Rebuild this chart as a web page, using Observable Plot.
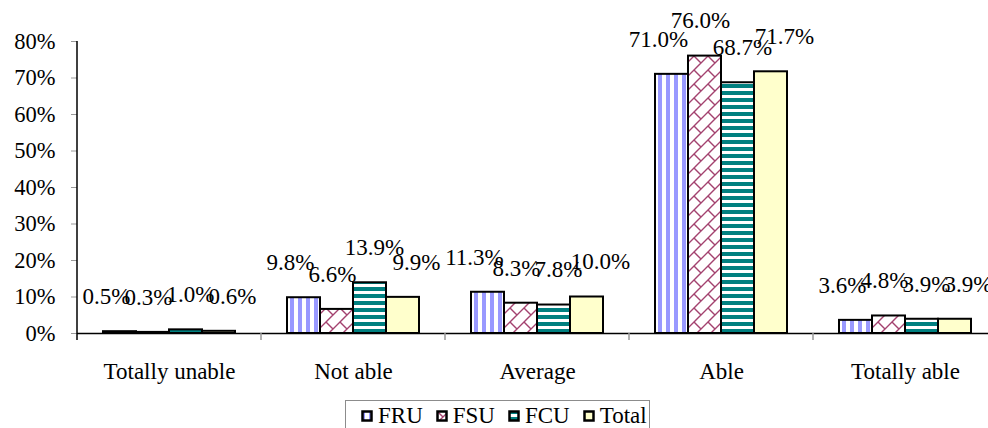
<!DOCTYPE html>
<html><head><meta charset="utf-8">
<script src="https://cdn.jsdelivr.net/npm/d3@7"></script>
<script src="https://cdn.jsdelivr.net/npm/@observablehq/plot@0.6"></script>
<style>
body{margin:0;background:#fff;font-family:'Liberation Serif',serif;}
#wrap{position:relative;width:988px;height:428px;overflow:hidden;background:#fff;}
#legend{position:absolute;left:345px;top:400px;width:305px;height:40px;border:1px solid #8c8c8c;box-sizing:border-box;display:flex;align-items:flex-start;padding-top:3px;padding-left:15px;font-size:23px;line-height:24px;color:#000;font-family:'Liberation Serif',serif;}
.item{display:flex;align-items:center;margin-right:13px;white-space:nowrap}
.item svg{margin-right:5px}
</style></head><body><div id="wrap"><div id="chart"></div><div id="legend"></div></div>
<script>
const categories = ["Totally unable", "Not able", "Average", "Able", "Totally able"];
const series = ["FRU", "FSU", "FCU", "Total"];
const FRU   = [0.005, 0.098, 0.113, 0.710, 0.036];
const FSU   = [0.003, 0.066, 0.083, 0.760, 0.048];
const FCU   = [0.010, 0.139, 0.078, 0.687, 0.039];
const Total = [0.006, 0.099, 0.100, 0.717, 0.039];
const yTicks = [0, 0.1, 0.2, 0.3, 0.4, 0.5, 0.6, 0.7, 0.8];

const seriesValues = [FRU, FSU, FCU, Total];
const seriesFills = ["url(#pFRU)", "url(#pFSU)", "url(#pFCU)", "#ffffcc"];
const data = categories.flatMap((c, i) => series.map((s, j) => ({category: c, series: s, value: seriesValues[j][i]})));
const pct1 = d3.format(".1%");
const FONT = "'Liberation Serif', serif";

// value labels: one text mark per series, spread slightly outward like the original
const labelMarks = series.map((s, j) => Plot.text(data.filter(d => d.series === s), {
  fx: "category", x: "series", y: "value", text: d => pct1(d.value),
  dy: -35, dx: (j - 1.5) * 9, fontSize: 23, fill: "black", fontFamily: FONT
}));

const chart = Plot.plot({
  width: 988, height: 395,
  marginLeft: 75, marginRight: -10, marginTop: 41, marginBottom: 62,
  style: {fontFamily: FONT, fontSize: "23px", color: "black", background: "transparent", overflow: "visible"},
  fx: {domain: categories, padding: 0, label: null},
  x: {domain: series, paddingInner: 0, paddingOuter: 0.71, axis: null},
  y: {domain: [0, 0.8], label: null},
  color: {type: "ordinal", domain: series, range: seriesFills},
  marks: [
    Plot.barY(data, {fx: "category", x: "series", y: "value", fill: "series", stroke: "black", strokeWidth: 2}),
    ...labelMarks,
    Plot.ruleY([0], {stroke: "black", strokeWidth: 1.5}),
    Plot.axisY({ticks: yTicks, tickFormat: d3.format(".0%"), tickSize: 6, tickPadding: 16, stroke: "#999", fill: "black", label: null, fontSize: 22.5, fontFamily: FONT}),
    Plot.axisFx({anchor: "bottom", tickSize: 0, tickPadding: 29, label: null, fontSize: 23, fill: "black", fontFamily: FONT})
  ]
});
document.getElementById("chart").appendChild(chart);

// patterns
const svg = d3.select(chart);
const defs = svg.insert("defs", ":first-child");
let p = defs.append("pattern").attr("id", "pFRU").attr("patternUnits", "userSpaceOnUse").attr("width", 8).attr("height", 8);
p.append("rect").attr("width", 8).attr("height", 8).attr("fill", "#fff");
p.append("rect").attr("width", 4).attr("height", 8).attr("fill", "#9999ff");
p = defs.append("pattern").attr("id", "pFSU").attr("patternUnits", "userSpaceOnUse").attr("width", 14).attr("height", 14);
p.append("rect").attr("width", 14).attr("height", 14).attr("fill", "#fff");
p.append("path").attr("d", "M-1,1L1,-1M0,14L14,0M13,15L15,13M0,0L7,7").attr("stroke", "#a3426f").attr("stroke-width", 1.4).attr("fill", "none");
p = defs.append("pattern").attr("id", "pFCU").attr("patternUnits", "userSpaceOnUse").attr("width", 7).attr("height", 7);
p.append("rect").attr("width", 7).attr("height", 7).attr("fill", "#fff");
p.append("rect").attr("width", 7).attr("height", 4).attr("fill", "#008080");

// y-axis line and category boundary ticks from the library's scales
const ys = chart.scale("y"), fxs = chart.scale("fx");
const yAt = ys.apply ? v => ys.apply(v) : d3.scaleLinear(ys.domain, ys.range);
const fxAt = fxs.apply ? v => fxs.apply(v) : d3.scaleBand(fxs.domain, fxs.range);
const x0 = fxAt(categories[0]);
svg.append("line").attr("x1", x0).attr("x2", x0).attr("y1", yAt(0.8)).attr("y2", yAt(0) + 7).attr("stroke", "black").attr("stroke-width", 1.5);
categories.slice(1).forEach(c => {
  const x = fxAt(c);
  svg.append("line").attr("x1", x).attr("x2", x).attr("y1", yAt(0)).attr("y2", yAt(0) + 7).attr("stroke", "#999").attr("stroke-width", 1.5);
});

// legend
const leg = d3.select("#legend");
series.forEach((s, j) => {
  const it = leg.append("div").attr("class", "item");
  const sw = it.append("svg").attr("width", 12).attr("height", 12);
  sw.append("rect").attr("x", 1.5).attr("y", 1.5).attr("width", 9).attr("height", 9).attr("fill", seriesFills[j]).attr("stroke", "black").attr("stroke-width", 2.5);
  it.append("span").text(s);
});
</script></body></html>
